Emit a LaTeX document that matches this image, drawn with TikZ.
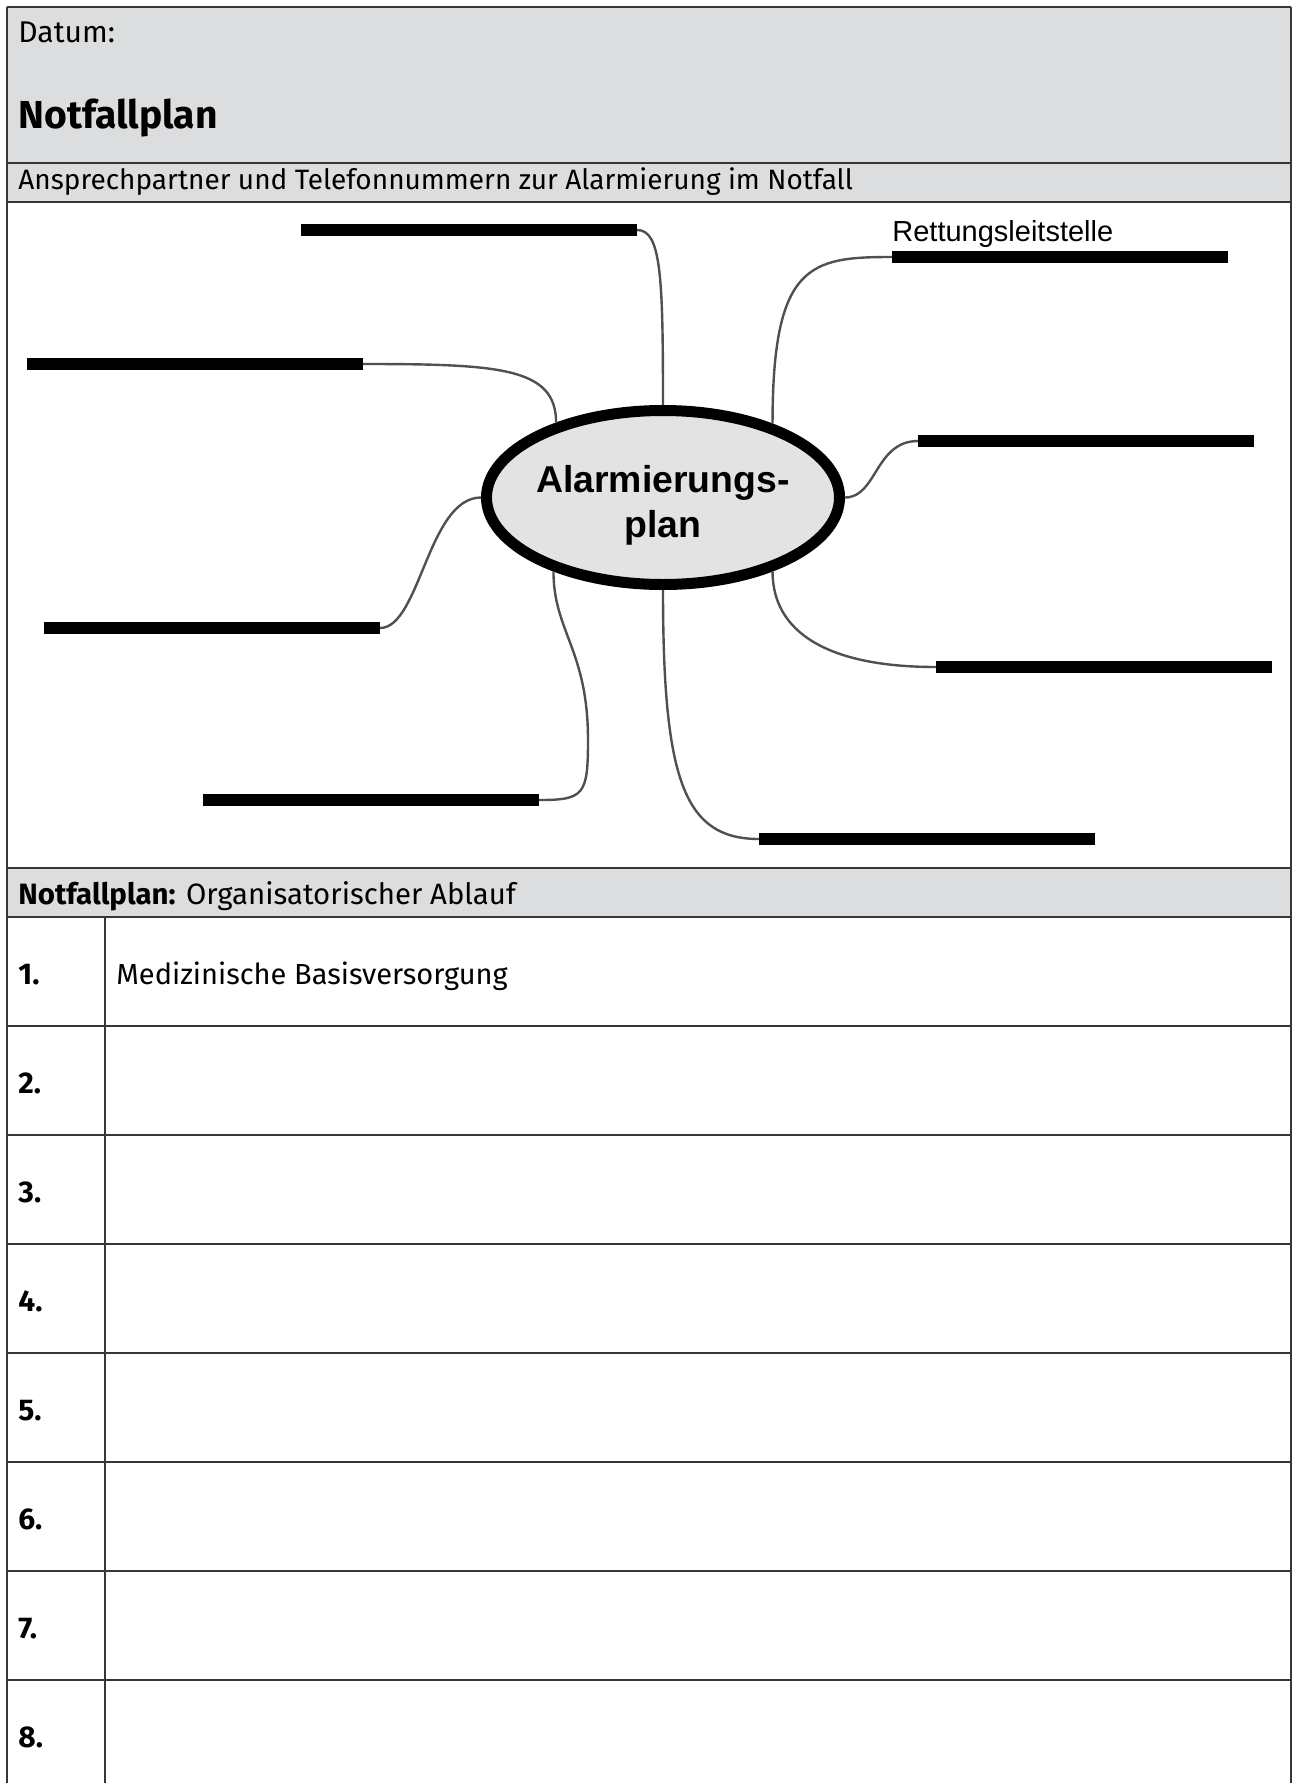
\documentclass[tikz,border=0pt]{standalone}
\usepackage{fontspec}
\setmainfont{Fira Sans}
\newfontfamily\arialfont{Liberation Sans}
\usepackage{tikz}
\usetikzlibrary{positioning,shapes.geometric,calc}
\definecolor{bandgray}{RGB}{220,221,223}
\definecolor{ovalgray}{RGB}{227,227,227}
\definecolor{linkgray}{RGB}{80,80,80}
\definecolor{rulegray}{RGB}{55,55,55}

\begin{document}
\begin{tikzpicture}[x=0.5pt, y=-0.5pt]
        \tikzset{rule/.style={draw=rulegray, line width=1pt}, blank/.style={rectangle, fill=black, minimum width=168pt, minimum height=6pt, inner sep=0pt, outer sep=0pt}, link/.style={draw=linkgray, line width=1.2pt}, hub/.style={ellipse, draw=black, line width=5.5pt, fill=ovalgray, minimum width=176.5pt, minimum height=87pt, inner sep=0pt}, hubtext/.style={inner sep=0pt, align=center, font=\arialfont\bfseries\fontsize{18.7}{22.75}\selectfont}, txt/.style={anchor=base west, inner sep=0pt, font=\fontsize{14}{16}\selectfont}, num/.style={anchor=base west, inner sep=0pt, font=\bfseries\fontsize{15}{17}\selectfont}}
        \useasboundingbox (0,0) rectangle (1293,1783);
        \fill[bandgray] (7,7) rectangle (1291,202);
        \fill[bandgray] (7,868) rectangle (1291,917);
        \foreach \y in {7,163,202,868,917} {\draw[rule] (7,\y) -- (1291,\y);}
        \foreach \n in {2,...,8} {\draw[rule] (7,{808+109*\n}) -- (1291,{808+109*\n});}
        \draw[rule] (7,7) -- (7,1783);
        \draw[rule] (1291,7) -- (1291,1783);
        \draw[rule] (105,917) -- (105,1783);
        \node[txt, font=\fontsize{15}{17}\selectfont] (datum) at (18,42) {Datum:};
        \node[txt, font=\bfseries\fontsize{19.5}{24}\selectfont] (titel) at (18,128) {Notfallplan};
        \node[txt] (kopf) at (18,189) {Ansprechpartner und Telefonnummern zur Alarmierung im Notfall};
        \node[txt, font=\fontsize{14.7}{17}\selectfont] (ablauf) at (18,904) {\textbf{Notfallplan:} Organisatorischer Ablauf};
        \foreach \n in {1,...,8} {\node[num] (nr\n) at (18,{875+109*\n}) {\n.};}
        \node[txt, font=\fontsize{14.5}{17}\selectfont] (schritt1) at (116,984) {Medizinische Basisversorgung};
        \node[hub] (plan) at (663,497.5) {};
        \node[hubtext] (plantext) at (663,505.5) {Alarmierungs-\\plan};
        \node[blank] (tel1) at (469,230) {};
        \node[blank] (tel2) at (1060,257) {};
        \node[blank] (tel3) at (195,364) {};
        \node[blank] (tel4) at (1086,441) {};
        \node[blank] (tel5) at (212,628) {};
        \node[blank] (tel6) at (1104,667) {};
        \node[blank] (tel7) at (371,800) {};
        \node[blank] (tel8) at (927,839) {};
        \node[anchor=base west, inner sep=0pt, font=\arialfont\fontsize{14.5}{17}\selectfont] (rls) at ([shift={(0,-10)}]tel2.north west) {Rettungsleitstelle};
        \coordinate (bend7) at (588,740);
        \draw[link] (tel1.east) .. controls +(24,0) and +(0,-130) .. (plan.north);
        \draw[link] (tel2.west) .. controls +(-82,0) and +(0,-160) .. (plan.34);
        \draw[link] (tel3.east) .. controls +(137,0) and +(0,-55) .. (plan.145);
        \draw[link] (tel5.east) .. controls +(40,0) and +(-53,0) .. (plan.west);
        \draw[link] (plan.east) .. controls +(32,0) and +(-43,0) .. (tel4.west);
        \draw[link] (plan.326.5) .. controls +(0,60) and +(-110,0) .. (tel6.west);
        \draw[link] (plan.south) .. controls +(0,190) and +(-75,0) .. (tel8.west);
        \draw[link] (plan.214) .. controls +(0,60) and +(0,-90) .. (bend7) .. controls +(0,55) and +(45,0) .. (tel7.east);
    \end{tikzpicture}
\end{document}
